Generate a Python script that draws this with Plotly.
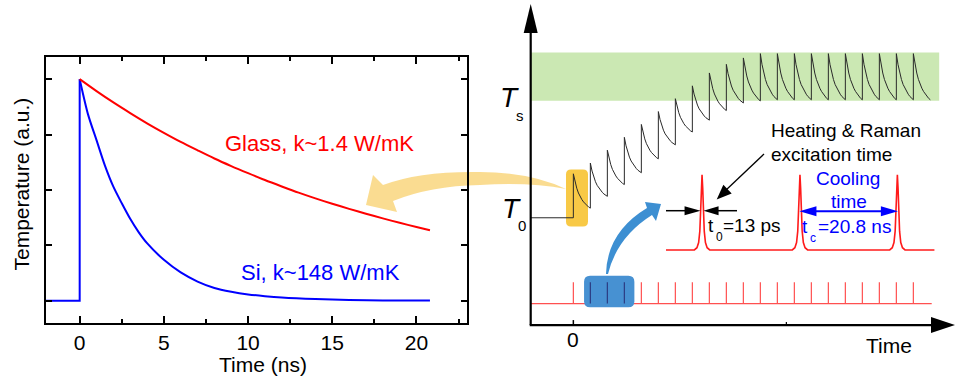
import plotly.graph_objects as go

W, H = 955, 383
FONT = "Arial, Liberation Sans, sans-serif"

# ---------------- left panel: temperature decay after one pulse ----------------
glass_t = [0, 1, 2, 3, 4, 5, 6, 7, 8, 9, 10, 11, 12, 13, 14, 15, 16, 17, 18, 19, 20, 20.8]
glass_T = [1.00, 0.946, 0.895, 0.847, 0.801, 0.758, 0.717, 0.679, 0.642, 0.608, 0.576,
           0.545, 0.516, 0.488, 0.462, 0.438, 0.415, 0.393, 0.372, 0.352, 0.333, 0.318]

si_t = [-2, 0, 0, 0.5, 1, 1.5, 2, 2.5, 3, 3.5, 4, 5, 6, 7, 8, 9, 10, 11, 12, 14, 16, 18, 20.8]
si_T = [0, 0, 1.00, 0.84, 0.725, 0.61, 0.515, 0.44, 0.37, 0.31, 0.26, 0.185, 0.128,
        0.087, 0.058, 0.041, 0.029, 0.021, 0.015, 0.008, 0.004, 0.002, 0.001]

x_ticks = [0, 5, 10, 15, 20]

# ---------------- right panel: pulse train heating schematic ----------------
pulse_n = [0, 1, 2, 3, 4, 5, 6, 7, 8, 9, 10, 11, 12, 13, 14, 15, 16, 17, 18, 19, 20]
peak_T = [1.41, 1.51, 1.63, 1.75, 1.87, 1.99, 2.11, 2.23, 2.35, 2.43, 2.49,
          2.53, 2.53, 2.53, 2.53, 2.53, 2.53, 2.53, 2.53, 2.53, 2.53]
trough_T = [1.09, 1.20, 1.31, 1.42, 1.55, 1.68, 1.80, 1.91, 2.00, 2.07, 2.09,
            2.10, 2.10, 2.10, 2.10, 2.10, 2.10, 2.10, 2.10, 2.10, 2.10]
decay_phase = [0, 0.1, 0.2, 0.3, 0.4, 0.5, 0.6, 0.7, 0.8, 0.9, 1.0]
decay_shape = [1.0, 0.76, 0.58, 0.44, 0.33, 0.25, 0.18, 0.12, 0.07, 0.03, 0.0]
T0 = 1.0
Ts_band = [2.09, 2.54]

train_base, train_top = 0.20, 0.40
inset_t = [7.57, 13.33, 19.06]
inset_base, inset_peak = 0.70, 1.40
inset_span = [5.45, 21.24]
pulse_offset = [-0.45, -0.3, -0.2, -0.13, -0.08, -0.04, 0, 0.04, 0.08, 0.13, 0.2, 0.3, 0.45]
pulse_shape = [0, 0.03, 0.1, 0.25, 0.5, 0.82, 1, 0.82, 0.5, 0.25, 0.1, 0.03, 0]

X2 = [-2.55, 22.45]
Y2 = [-0.54, 3.03]


def P(x, y):
    return x / W, 1 - y / H


def fmt(x, y):
    a, b = P(x, y)
    return f"{a:.5f},{b:.5f}"


def svg(cmds):
    out = []
    for c in cmds:
        if c[0] == "Z":
            out.append("Z")
        else:
            out.append(c[0] + " " + " ".join(fmt(*p) for p in c[1:]))
    return " ".join(out)


def head(tip, back, length, hw):
    dx, dy = tip[0] - back[0], tip[1] - back[1]
    n = (dx * dx + dy * dy) ** 0.5
    ux, uy = dx / n, dy / n
    bx, by = tip[0] - ux * length, tip[1] - uy * length
    return svg([("M", tip), ("L", (bx - uy * hw, by + ux * hw)),
                ("L", (bx + uy * hw, by - ux * hw)), ("Z",)])


def rrect(x0, y0, x1, y1, r):
    return svg([("M", (x0 + r, y0)), ("L", (x1 - r, y0)), ("Q", (x1, y0), (x1, y0 + r)),
                ("L", (x1, y1 - r)), ("Q", (x1, y1), (x1 - r, y1)), ("L", (x0 + r, y1)),
                ("Q", (x0, y1), (x0, y1 - r)), ("L", (x0, y0 + r)), ("Q", (x0, y0), (x0 + r, y0)),
                ("Z",)])


def rx(t):
    return 530 + (t - X2[0]) * 425 / (X2[1] - X2[0])


def ry(v):
    return 383 - (v - Y2[0]) * 383 / (Y2[1] - Y2[0])


shapes = []


def pshape(path, fill, layer="above", line_color=None, width=0):
    shapes.append(dict(type="path", path=path, xref="paper", yref="paper", fillcolor=fill,
                       line=dict(color=line_color or fill, width=width), layer=layer))


def pline(x0, y0, x1, y1, color, width, layer="above"):
    a, b = P(x0, y0)
    c, d = P(x1, y1)
    shapes.append(dict(type="line", x0=a, y0=b, x1=c, y1=d, xref="paper", yref="paper",
                       line=dict(color=color, width=width), layer=layer))


# sawtooth temperature trace
saw_x = [X2[0], 0]
saw_y = [T0, T0]
for k, pk, tr in zip(pulse_n, peak_T, trough_T):
    for ph, s in zip(decay_phase, decay_shape):
        saw_x.append(k + ph)
        saw_y.append(tr + (pk - tr) * s)

# low-resolution pulse train
train_x = [X2[0], pulse_n[-1] + 1.08, None]
train_y = [train_base, train_base, None]
for k in pulse_n:
    train_x += [k, k, None]
    train_y += [train_base, train_top, None]

# magnified pulses
inset_x = [inset_span[0]]
inset_y = [inset_base]
for c in inset_t:
    for o, s in zip(pulse_offset, pulse_shape):
        inset_x.append(c + o)
        inset_y.append(inset_base + (inset_peak - inset_base) * s)
inset_x.append(inset_span[1])
inset_y.append(inset_base)

fig = go.Figure()
# Si: step at t=0, then smooth decay
fig.add_trace(go.Scatter(x=si_t[:3], y=si_T[:3], mode="lines", line=dict(color="#0000ff", width=2),
                         xaxis="x", yaxis="y", hoverinfo="skip"))
fig.add_trace(go.Scatter(x=si_t[2:], y=si_T[2:], mode="lines",
                         line=dict(color="#0000ff", width=2, shape="spline", smoothing=0.8),
                         xaxis="x", yaxis="y", hoverinfo="skip"))
fig.add_trace(go.Scatter(x=glass_t, y=glass_T, mode="lines",
                         line=dict(color="#ff0000", width=2, shape="spline", smoothing=0.8),
                         xaxis="x", yaxis="y", hoverinfo="skip"))
fig.add_trace(go.Scatter(x=saw_x, y=saw_y, mode="lines", line=dict(color="#2a2a2a", width=1),
                         xaxis="x2", yaxis="y2", hoverinfo="skip"))
fig.add_trace(go.Scatter(x=train_x, y=train_y, mode="lines", line=dict(color="#ff5050", width=1.2),
                         xaxis="x2", yaxis="y2", hoverinfo="skip", connectgaps=False))
fig.add_trace(go.Scatter(x=inset_x, y=inset_y, mode="lines", line=dict(color="#ff1a1a", width=1.6),
                         xaxis="x2", yaxis="y2", hoverinfo="skip"))

# saturation band and highlight boxes
pshape(svg([("M", (rx(X2[0]) + 0.5, ry(Ts_band[1]))), ("L", (rx(21.52), ry(Ts_band[1]))),
            ("L", (rx(21.52), ry(Ts_band[0]))), ("L", (rx(X2[0]) + 0.5, ry(Ts_band[0]))), ("Z",)]),
       "#cbe8b3", layer="below")
pshape(rrect(566, 169.5, 588, 226.5, 5), "#f8c946", layer="below")

# yellow curved arrow (left)
pshape(svg([("M", (566, 189)), ("Q", (530, 172), (480, 172)), ("Q", (420, 171), (383, 185)),
            ("L", (373, 175)), ("L", (366, 205)), ("L", (397, 212)), ("L", (393, 201)),
            ("Q", (430, 186), (480, 185)), ("Q", (530, 182), (566, 189)), ("Z",)]),
       "rgba(246,196,72,0.6)", layer="below")

# blue box over the pulse train
box_t = [0.63, 3.59]
pshape(rrect(rx(box_t[0]), 275.7, rx(box_t[1]), 307.3, 6), "#4791d2", layer="above")
for k in pulse_n:
    if box_t[0] < k < box_t[1]:
        pline(rx(k), ry(train_top), rx(k), ry(train_base), "#2c3c82", 1.2)

# blue curved arrow
pshape(svg([("M", (606, 274)), ("Q", (607, 232), (647, 208)), ("L", (645, 202)), ("L", (661, 204)),
            ("L", (656, 221)), ("L", (652, 215)), ("Q", (617, 237), (608, 274)), ("Z",)]),
       "#3d8fd2")

# schematic axes
ax0 = rx(X2[0]) + 0.7
ay0 = ry(0)
pline(ax0, ay0, ax0, 30, "black", 2.2)
pshape(head((ax0, 4), (ax0, 40), 29, 7), "black")
pline(ax0 - 1, ay0, 935, ay0, "black", 2.2)
pshape(head((955, ay0), (900, ay0), 24, 8), "black")
pline(rx(0), ay0, rx(0), ay0 - 5, "black", 1.5)
pline(rx(12.53), ay0, rx(12.53), ay0 - 3, "black", 1.2)

# t0 arrows
ya = 210.7
p1 = rx(inset_t[0])
pline(666, ya, p1 - 10, ya, "black", 1.5)
pshape(head((p1 - 1.5, ya), (p1 - 30, ya), 16, 4.5), "black")
pline(p1 + 10, ya, 737, ya, "black", 1.5)
pshape(head((p1 + 1.5, ya), (p1 + 30, ya), 15, 4.5), "black")

# heating arrow
pline(764, 154, 725, 191, "black", 1.3)
pshape(head((716.7, 199.5), (764, 154), 15, 6), "black")

# cooling arrow
p2, p3 = rx(inset_t[1]), rx(inset_t[2])
pline(p2 + 12, 211.3, p3 - 12, 211.3, "#0000ff", 2)
pshape(head((p2 - 0.5, 211.3), (p3, 211.3), 17, 5), "#0000ff")
pshape(head((p3 + 0.5, 211.3), (p2, 211.3), 17, 5), "#0000ff")

ann = []


def text(x, y, s, size, color="black", xanchor="center", angle=0, style="normal"):
    a, b = P(x, y)
    ann.append(dict(x=a, y=b, xref="paper", yref="paper", text=s, showarrow=False,
                    xanchor=xanchor, yanchor="middle", textangle=angle, borderpad=0,
                    font=dict(family=FONT, size=size, color=color, style=style)))


text(319, 143, "Glass, k~1.4 W/mK", 22, "#ff0000")
text(320.3, 272.7, "Si, k~148 W/mK", 22, "#0000ff")
text(262.5, 364, "Time (ns)", 21)
text(21.5, 184, "Temperature (a.u.)", 21, angle=-90)

text(509.5, 98, "T", 28, style="italic")
text(519.5, 116, "s", 15)
text(511.5, 209, "T", 28, style="italic")
text(522, 226, "0", 15)
text(572.7, 339, "0", 21)
text(889, 345, "Time", 21)
text(770, 130.7, "Heating &amp; Raman", 19, xanchor="left")
text(770, 154.3, "excitation time", 19, xanchor="left")
text(715, 225.7, "t", 19, xanchor="right")
text(715, 237, "0", 12, xanchor="left")
text(722, 225.7, "=13 ps", 19, xanchor="left")
text(848, 178.3, "Cooling", 19, "#0000ff")
text(849.3, 201.7, "time", 19, "#0000ff")
text(809, 226.7, "t", 19, "#0000ff", xanchor="right")
text(809, 238.5, "c", 12, "#0000ff", xanchor="left")
text(816.5, 226.7, "=20.8 ns", 19, "#0000ff", xanchor="left")

frame = dict(showline=True, linecolor="black", linewidth=2, mirror="ticks", showgrid=False,
             zeroline=False, ticks="inside", tickcolor="black", tickwidth=1.5)

fig.update_layout(
    width=W, height=H, margin=dict(l=0, r=0, t=0, b=0),
    paper_bgcolor="white", plot_bgcolor="rgba(0,0,0,0)", showlegend=False,
    font=dict(family=FONT, color="black"),
    xaxis=dict(domain=[46 / W, 467 / W], range=[-2, 23], tickvals=x_ticks, ticklen=7,
               tickfont=dict(size=21), ticklabelstandoff=0,
               minor=dict(ticks="inside", ticklen=4, dtick=2.5, tick0=0, tickcolor="black",
                          tickwidth=1.5), anchor="y", **frame),
    yaxis=dict(domain=[(H - 323) / H, (H - 57) / H], range=[-0.1, 1.1], dtick=0.25, tick0=0,
               ticklen=6, showticklabels=False, anchor="x", **frame),
    xaxis2=dict(domain=[530 / W, 1], range=X2, visible=False, anchor="y2"),
    yaxis2=dict(domain=[0, 1], range=Y2, visible=False, anchor="x2"),
    shapes=shapes, annotations=ann,
)

fig.write_html("out.html")
